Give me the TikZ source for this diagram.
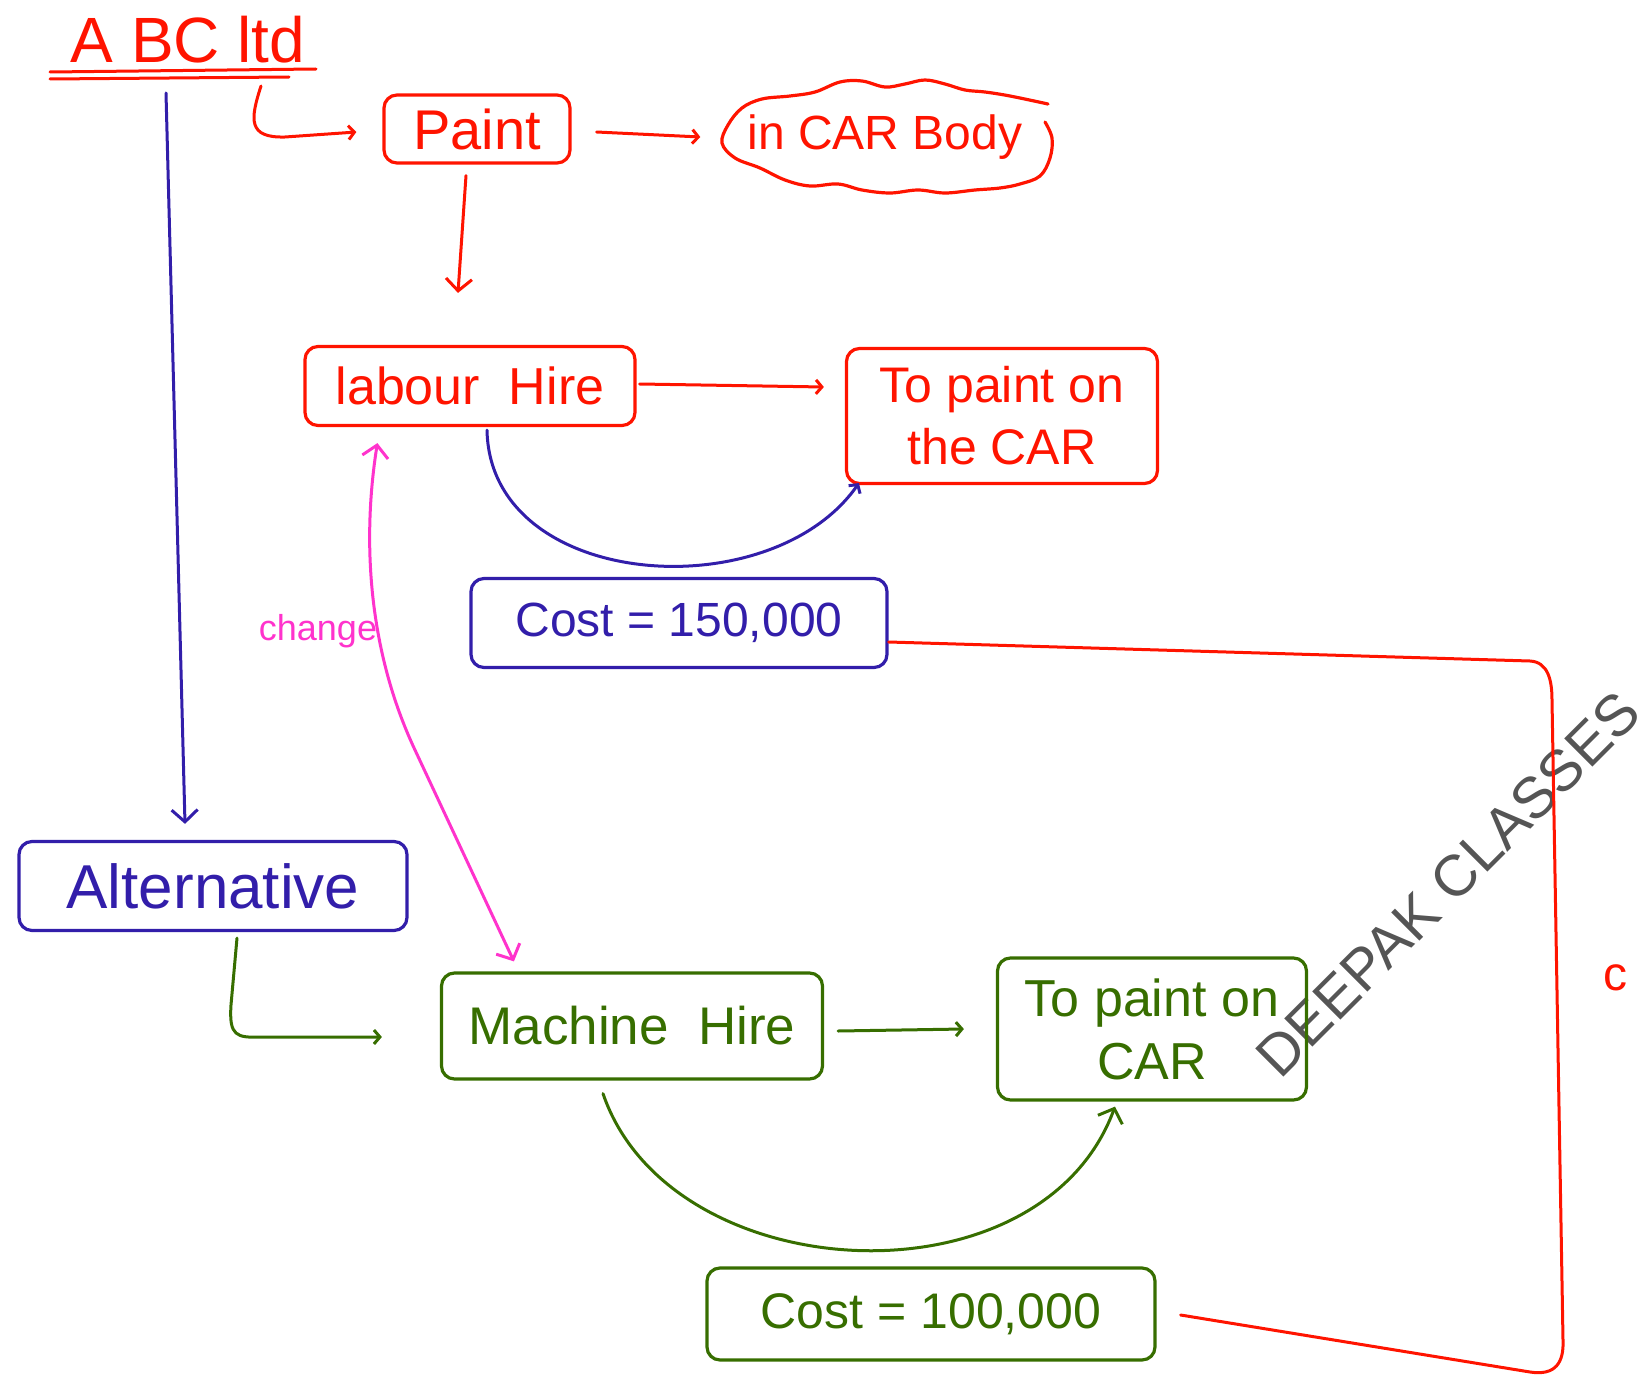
\documentclass[tikz,border=0pt]{standalone}
\usepackage{fontspec}
\setmainfont{Liberation Sans}
\usetikzlibrary{arrows.meta,calc}
\definecolor{hred}{RGB}{255,20,0}
\definecolor{hblue}{RGB}{50,30,170}
\definecolor{hgreen}{RGB}{55,110,0}
\definecolor{hpink}{RGB}{255,51,204}
\definecolor{wmark}{RGB}{85,85,85}
\newcommand\fsz[2]{\fontsize{#1}{#2}\selectfont}
\begin{document}
\begin{tikzpicture}[x=1pt,y=-1pt,
  box/.style={draw, line width=3.2pt, rounded corners=13pt, inner sep=0pt, align=center},
  conn/.style={line width=3pt, line cap=round, line join=round},
  bigbarb/.style={-{Straight Barb[length=12pt,width=26pt]}},
  smallbarb/.style={-{Straight Barb[length=6pt,width=14pt]}},
  dblbarb/.style={{Straight Barb[length=12pt,width=26pt]}-{Straight Barb[length=12pt,width=26pt]}}]
\useasboundingbox (0,0) rectangle (1650,1378);

% watermark
\node[text=wmark, rotate=45, font=\fsz{58}{66}] (wm) at (1448,884) {DEEPAK CLASSES};

% title
\node[text=hred, font=\fsz{64}{70}, inner sep=0pt] (abc) at (188,40) {A BC ltd};
\draw[hred, conn] (50,72) -- (316,69);
\draw[hred, conn] (50,79) -- (289,77);
\coordinate (abcout) at (261,86);
\coordinate (abcdown) at (166,93);

% red boxes
\node[box, draw=hred, text=hred, minimum width=186, minimum height=68, font=\fsz{56}{60}] (paint) at (477,129) {Paint};
\node[text=hred, inner sep=0pt, minimum width=325, minimum height=108, font=\fsz{48}{52}] (body) at (885,137) {in CAR Body};
\draw[hred, line width=3.2pt, line cap=round] plot[smooth, tension=0.6] coordinates {
  (1048,104) (1010,96) (985,92) (965,90) (945,84) (925,80) (905,84) (885,87) (862,81) (840,82)
  (815,92) (790,96) (762,99) (742,108) (728,125) (722,143) (735,158) (760,168) (785,180)
  (810,186) (838,184) (862,190) (890,193) (918,190) (945,193) (975,190) (1000,188) (1020,184)
  (1040,176) (1050,158) (1052,138) (1045,122)};
\node[box, draw=hred, text=hred, minimum width=330, minimum height=79, font=\fsz{52}{56}] (labour) at (470,386) {labour\ \ Hire};
\node[box, draw=hred, text=hred, minimum width=311, minimum height=135, font=\fsz{50}{62}] (tp1) at (1002,416) {To paint on\\the CAR};

% blue boxes
\node[box, draw=hblue, text=hblue, minimum width=416, minimum height=89, font=\fsz{48}{52}] (cost1) at (679,623) {Cost = 150,000};
\node[box, draw=hblue, text=hblue, minimum width=388, minimum height=89, font=\fsz{62}{66}] (alt) at (213,886) {Alternative};

% green boxes
\node[box, draw=hgreen, text=hgreen, minimum width=381, minimum height=106, font=\fsz{53}{57}] (machine) at (632,1026) {Machine\ \ Hire};
\node[box, draw=hgreen, text=hgreen, minimum width=309, minimum height=142, font=\fsz{52}{63}] (tp2) at (1152,1029) {To paint on\\CAR};
\node[box, draw=hgreen, text=hgreen, minimum width=448, minimum height=92, font=\fsz{50}{54}] (cost2) at (931,1314) {Cost = 100,000};

% labels
\node[text=hpink, font=\fsz{36}{40}, inner sep=0pt] (change) at (318,631) {change};
\node[text=hred, font=\fsz{48}{52}, inner sep=0pt] (cmark) at (1615,978) {c};

% red connectors
\draw[hred, conn, smallbarb] (abcout) .. controls (250,120) and (248,138) .. (285,137) -- ($(paint.west)+(-26,3)$);
\draw[hred, conn, smallbarb] ($(paint.east)+(25,3)$) -- ($(body.west)+(-22,0)$);
\draw[hred, conn, bigbarb] ($(paint.south)+(-11,11)$) -- ($(labour.north)+(-12,-52)$);
\draw[hred, conn, smallbarb] ($(labour.east)+(3,-2)$) -- ($(labour.east -| tp1.west)+(-21,1)$);
\draw[hred, conn] ($(cost1.east)+(0,19)$) -- (1530,661) .. controls (1548,662) and (1552,680) .. (1552,700)
  -- (1563,1340) .. controls (1564,1362) and (1556,1376) .. (1530,1372) -- ($(cost2.east)+(24,1)$);

% blue connectors
\draw[hblue, conn, bigbarb] (abcdown) -- ($(alt.north)+(-28,-16)$);
\draw[hblue, conn, smallbarb] ($(labour.south)+(17,3)$) .. controls (490,590) and (770,610) .. ($(tp1.south west)+(14,-2)$);

% green connectors
\draw[hgreen, conn, smallbarb] ($(alt.south)+(24,6)$) -- (231,1005) .. controls (229,1036) and (236,1038) .. (262,1037) -- ($(machine.west)+(-58,11)$);
\draw[hgreen, conn, smallbarb] ($(machine.east)+(14,5)$) -- ($(machine.east -| tp2.west)+(-32,3)$);
\draw[hgreen, conn, bigbarb] ($(machine.south)+(-29,13)$) .. controls (670,1290) and (1040,1310) .. ($(tp2.south)+(-37,5)$);

% pink double arrow
\draw[hpink, conn, dblbarb] ($(labour.south west)+(74,16)$) .. controls (362,540) and (368,650) .. (415,750) -- ($(machine.north west)+(74,-10)$);
\end{tikzpicture}
\end{document}
